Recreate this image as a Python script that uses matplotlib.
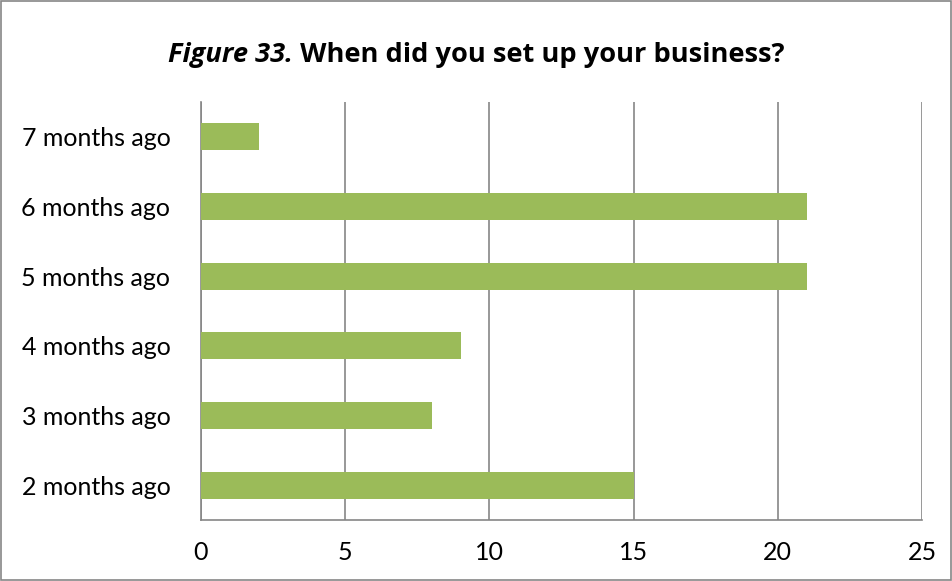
import matplotlib
matplotlib.use('Agg')
import matplotlib.pyplot as plt
from matplotlib.patches import Rectangle

plt.rcParams['font.family'] = ['Lato', 'DejaVu Sans']

categories = ['2 months ago', '3 months ago', '4 months ago',
              '5 months ago', '6 months ago', '7 months ago']
counts = [15, 8, 9, 21, 21, 2]
x_ticks = [0, 5, 10, 15, 20, 25]

fig = plt.figure(figsize=(9.52, 5.81), dpi=100)
ax = fig.add_axes([0.2111, 0.105, 0.7574, 0.7194])

ax.barh(range(len(categories)), counts, height=0.39, color='#9BBB59', zorder=3)

ax.set_xlim(0, 25)
ax.set_ylim(-0.5, len(categories) - 0.5)
ax.set_xticks(x_ticks)
ax.set_xticklabels([str(t) for t in x_ticks], fontsize=18)
ax.set_yticks(range(len(categories)))
ax.set_yticklabels(categories, fontsize=18)
ax.tick_params(length=0)
ax.tick_params(axis='x', pad=15)
ax.tick_params(axis='y', pad=22)
ax.xaxis.grid(True, color='#868686', linewidth=1.2, zorder=0)

for side in ['top', 'right']:
    ax.spines[side].set_visible(False)
for side in ['left', 'bottom']:
    ax.spines[side].set_color('#868686')
    ax.spines[side].set_linewidth(1.2)

# Title: italic figure number followed by bold question
fig.canvas.draw()
renderer = fig.canvas.get_renderer()
title_font = dict(fontsize=19.6, fontweight='bold', va='center', ha='left',
                  family=['Open Sans', 'DejaVu Sans'])
part1 = fig.text(0, 0.905, 'Figure 33.', fontstyle='italic', **title_font)
part2 = fig.text(0, 0.905, ' When did you set up your business?', **title_font)
w1 = part1.get_window_extent(renderer).width
w2 = part2.get_window_extent(renderer).width
start = (fig.bbox.width - (w1 + w2)) / 2
part1.set_x(start / fig.bbox.width)
part2.set_x((start + w1) / fig.bbox.width)

# Outer chart frame
fig.patches.append(Rectangle((0.001, 0.001), 0.998, 0.997, transform=fig.transFigure,
                             fill=False, edgecolor='#868686', linewidth=1.2))

fig.savefig('out.png', dpi=100)
